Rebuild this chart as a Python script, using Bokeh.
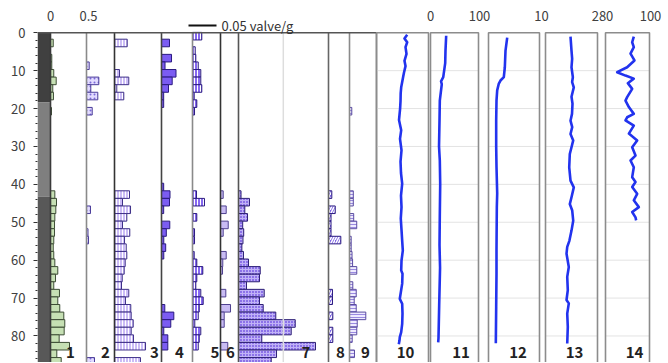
from bokeh.plotting import figure
from bokeh.models import Range1d, FixedTicker
from bokeh.embed import file_html
from bokeh.resources import INLINE
from bokeh.core.properties import value

FONT = "Noto Sans CJK JP"

# ---------------- data ----------------
# lithology (depth, cm)
litho_top = [0, 18.4, 43.2]
litho_bottom = [18.4, 43.2, 87.5]
litho_color = ["#404040", "#7f7f7f", "#585858"]

# panel 1 (scale 0 - 0.5)
p1_depth = [2.7, 6.7, 8.7, 10.7, 12.7, 14.7, 16.7, 20.7, 42.7, 44.7, 46.7, 48.7, 50.7, 52.7, 54.7, 56.7,
            58.7, 60.7, 62.7, 64.7, 66.7, 68.7, 70.7, 72.7, 74.7, 76.7, 78.7, 80.7, 82.7, 84.7, 86.7]
p1_value = [0.036, 0.017, 0.017, 0.043, 0.075, 0.030, 0.039, 0.013, 0.057, 0.079, 0.070, 0.057, 0.053, 0.053,
            0.043, 0.036, 0.043, 0.057, 0.096, 0.066, 0.043, 0.118, 0.096, 0.122, 0.175, 0.188, 0.180, 0.114,
            0.250, 0.083, 0.141]

# panels 2-9 (valve/g)
p2_depth = [8.7, 12.7, 14.7, 16.7, 20.7, 46.7, 52.7, 54.7, 86.7]
p2_value = [0.0048, 0.0220, 0.0077, 0.0202, 0.0102, 0.0071, 0.0027, 0.0036, 0.0143]

p3_depth = [2.7, 10.7, 12.7, 14.7, 16.7, 42.7, 44.7, 46.7, 48.7, 50.7, 52.7, 54.7, 56.7, 58.7, 60.7, 62.7,
            64.7, 66.7, 68.7, 70.7, 72.7, 74.7, 76.7, 78.7, 80.7, 82.7, 86.7]
p3_value = [0.0227, 0.0089, 0.0255, 0.0041, 0.0166, 0.0268, 0.0143, 0.0286, 0.0220, 0.0143, 0.0273, 0.0179,
            0.0209, 0.0220, 0.0191, 0.0173, 0.0138, 0.0125, 0.0255, 0.0196, 0.0291, 0.0298, 0.0334, 0.0298,
            0.0339, 0.0554, 0.0464]

p4_depth = [2.7, 6.7, 8.7, 10.7, 12.7, 14.7, 16.7, 18.7, 40.7, 42.7, 44.7, 46.7, 50.7, 52.7, 54.7, 56.7,
            58.7, 72.7, 74.7, 76.7, 78.7, 80.7, 82.7]
p4_value = [0.0143, 0.0179, 0.0063, 0.0259, 0.0191, 0.0125, 0.0039, 0.0039, 0.0039, 0.0152, 0.0143, 0.0039,
            0.0148, 0.0086, 0.0041, 0.0075, 0.0041, 0.0059, 0.0220, 0.0166, 0.0041, 0.0113, 0.0113]

p5_depth = [0.9, 4.7, 6.7, 8.7, 10.7, 12.7, 14.7, 16.7, 18.7, 20.7, 42.7, 44.7, 48.7, 52.7, 54.7, 58.7,
            60.7, 62.7, 64.7, 66.7, 68.7, 70.7, 72.7, 74.7, 76.7, 78.7, 80.7, 82.7]
p5_value = [0.0166, 0.0048, 0.0059, 0.0102, 0.0148, 0.0148, 0.0166, 0.0030, 0.0077, 0.0036, 0.0071, 0.0214,
            0.0077, 0.0036, 0.0036, 0.0030, 0.0077, 0.0184, 0.0077, 0.0059, 0.0148, 0.0191, 0.0120, 0.0102,
            0.0041, 0.0148, 0.0120, 0.0102]

p6_depth = [42.7, 46.7, 50.7, 52.7, 58.7, 60.7, 62.7, 68.7, 72.7, 74.7, 76.7, 82.7]
p6_value = [0.0048, 0.0102, 0.0138, 0.0048, 0.0102, 0.0041, 0.0036, 0.0095, 0.0179, 0.0066, 0.0066, 0.0130]

p7_depth = [42.7, 44.7, 46.7, 48.7, 50.7, 52.7, 54.7, 56.7, 58.7, 60.7, 62.7, 64.7, 66.7, 68.7, 70.7, 72.7,
            74.7, 76.7, 78.7, 80.7, 82.7, 84.7, 86.7]
p7_value = [0.0045, 0.0196, 0.0113, 0.0161, 0.0075, 0.0093, 0.0080, 0.0060, 0.0089, 0.0179, 0.0388, 0.0375,
            0.0143, 0.0459, 0.0375, 0.0441, 0.0666, 0.1013, 0.0941, 0.0416, 0.1375, 0.0679, 0.0584]

p8_depth = [42.7, 46.7, 48.7, 50.7, 52.7, 54.7, 68.7, 70.7, 74.7, 78.7, 80.7]
p8_value = [0.0059, 0.0120, 0.0045, 0.0045, 0.0045, 0.0220, 0.0071, 0.0071, 0.0077, 0.0077, 0.0077]

p9_depth = [20.7, 42.7, 44.7, 48.7, 50.7, 54.7, 56.7, 58.7, 60.7, 62.7, 66.7, 68.7, 70.7, 72.7, 74.7, 76.7,
            78.7, 80.7, 84.7]
p9_value = [0.0041, 0.0068, 0.0068, 0.0075, 0.0129, 0.0030, 0.0030, 0.0045, 0.0055, 0.0130, 0.0059, 0.0120,
            0.0084, 0.0120, 0.0291, 0.0138, 0.0130, 0.0048, 0.0089]

scale_bar_value = 0.05

# line panels 10-14
p10_depth = [0.5, 1.5, 2.5, 3.8, 5.6, 7.4, 8.8, 10.5, 11.6, 13.0, 14.4, 16.0, 18.0, 20.0, 23.0, 25.7, 28.0,
             31.0, 34.0, 37.0, 39.8, 43.0, 46.0, 49.0, 52.0, 54.9, 57.5, 60.1, 62.7, 63.6, 66.2, 70.2, 71.5,
             74.1, 76.8, 79.0, 80.3, 81.2, 82.2]
p10_value = [59.0, 53.8, 59.0, 55.8, 57.7, 53.8, 55.8, 52.9, 51.3, 49.4, 47.5, 46.5, 46.2, 45.4, 43.3, 47.5,
             45.2, 48.1, 46.2, 47.1, 49.4, 47.1, 48.1, 46.7, 48.1, 49.4, 50.6, 48.1, 47.5, 50.0, 49.4, 44.8,
             49.4, 50.0, 49.4, 47.5, 44.8, 44.2, 42.9]

p11_depth = [0.8, 4.7, 8.0, 11.7, 12.8, 13.6, 17.9, 23.0, 30.0, 33.7, 40.0, 48.0, 56.0, 62.0, 72.0, 80.6, 81.7]
p11_value = [32.0, 30.6, 30.0, 26.0, 21.5, 23.0, 19.0, 18.4, 17.4, 19.0, 19.8, 19.0, 18.4, 19.5, 17.7, 16.3, 15.7]

p12_depth = [1.3, 4.7, 9.1, 11.7, 12.6, 13.4, 15.2, 17.9, 23.2, 30.0, 35.4, 42.4, 46.0, 57.4, 63.6, 72.3, 81.9]
p12_value = [3.53, 3.21, 3.08, 2.89, 2.26, 1.95, 1.64, 1.51, 1.45, 1.45, 1.51, 1.64, 1.57, 1.51, 1.51, 1.45, 1.38]

p13_depth = [1.0, 4.7, 6.9, 9.1, 11.7, 13.0, 14.4, 16.9, 18.7, 21.4, 23.2, 24.9, 26.7, 28.4, 30.2, 32.0,
             35.5, 39.0, 40.8, 43.4, 45.2, 46.9, 49.6, 52.2, 54.9, 56.5, 58.3, 61.8, 64.4, 67.9, 70.5, 71.4,
             74.1, 77.6, 82.0]
p13_value = [235.1, 236.5, 237.4, 236.5, 238.4, 237.4, 239.7, 236.5, 237.9, 237.2, 235.1, 237.5, 235.1, 238.9,
             236.5, 234.1, 233.3, 235.1, 239.7, 236.5, 234.1, 237.5, 238.9, 236.5, 233.5, 230.5, 229.5, 232.7,
             230.5, 231.3, 229.5, 232.7, 230.5, 231.3, 230.5]

p14_depth = [1.0, 2.5, 3.8, 5.5, 7.3, 9.1, 10.4, 11.3, 12.1, 13.3, 14.8, 17.0, 17.9, 19.6, 21.4, 22.3, 23.1,
             24.5, 26.6, 28.4, 30.2, 32.4, 33.7, 35.5, 38.1, 39.4, 40.7, 42.5, 44.2, 46.0, 47.3, 48.7, 49.5]
p14_value = [62.9, 59.3, 62.9, 55.6, 64.4, 48.1, 25.9, 44.4, 62.9, 49.6, 59.3, 48.1, 44.4, 51.9, 62.9, 48.1,
             44.4, 62.9, 51.9, 70.4, 59.3, 66.7, 55.6, 62.9, 59.3, 66.7, 59.3, 70.4, 62.9, 74.1, 59.3, 66.7, 68.1]

depth_ticks = [0, 10, 20, 30, 40, 50, 60, 70, 80]
panel_names = ["1", "2", "3", "4", "5", "6", "7", "8", "9", "10", "11", "12", "13", "14"]

# ---------------- layout (page pixels of the frame coordinate system) ----------------
bar_left = [50, 86, 114, 161, 192, 220, 238, 328, 349]
bar_right = [86, 114, 161, 192, 220, 238, 328, 349, 376]
border_color = ["#3a3a3a", "#8a8a8a", "#333333", "#444444", "#8a8a8a", "#333333", "#555555", "#666666", "#8a8a8a", "#8a8a8a"]
box_left = [376, 430, 488, 545, 605]
box_right = [428, 478, 539, 597, 649]
line_src = [(0, 100), (0, 100), (0, 10), (200, 280), (0, 100)]
line_tgt = [(376, 428), (430, 479), (488, 541), (545, 602), (605, 650)]
name_x = [70, 105, 154, 179, 214.5, 230, 305.5, 340, 365, 405, 460.5, 517.5, 574, 634]
name_depth = 84.4
top_label_depth = -4.4

p = figure(frame_width=625, frame_height=354, output_backend="svg", toolbar_location=None,
           x_range=Range1d(37, 662), y_range=Range1d(87.0, -6.4),
           x_axis_location=None, min_border_left=37, min_border_right=0,
           min_border_top=8, min_border_bottom=0)
p.outline_line_color = None
p.border_fill_color = "white"
p.xgrid.visible = False
p.ygrid.visible = False
p.background_fill_color = "white"

yax = p.yaxis[0]
yax.ticker = FixedTicker(ticks=depth_ticks, minor_ticks=[d for d in range(2, 87, 2) if d % 10])
yax.axis_line_color = None
yax.major_tick_out = 4
yax.major_tick_in = 0
yax.minor_tick_out = 2
yax.minor_tick_in = 0
yax.major_tick_line_color = "#333333"
yax.minor_tick_line_color = "#333333"
yax.major_label_standoff = 8
yax.major_label_text_font = FONT
yax.major_label_text_font_size = "13px"
yax.major_label_text_color = "#404040"


def sub(src, tgt):
    return p.subplot(x_source=Range1d(*src), x_target=Range1d(*tgt),
                     y_source=Range1d(0, 1), y_target=Range1d(0, 1))


# lithology column
lith = sub((0, 1), (37, 50))
lith.hbar(y=[(a + b) / 2 for a, b in zip(litho_top, litho_bottom)],
          height=[b - a for a, b in zip(litho_top, litho_bottom)],
          left=0, right=1, fill_color=litho_color, line_color=None)

# bar panels
bar_styles = [
    dict(fill_color="#c6e0b4", line_color="#3d4d35"),
    dict(fill_color="#e2dbff", line_color="#4a3c99", hatch_pattern="dot", hatch_color="#7a68d8", hatch_scale=4, hatch_weight=1),
    dict(fill_color="#cbbcf6", line_color="#3e3088", hatch_pattern="vertical_line", hatch_color="#ffffff", hatch_scale=3, hatch_weight=1),
    dict(fill_color="#7b5cf2", line_color="#2a1a80"),
    dict(fill_color="#8668f0", line_color="#2a1a80", hatch_pattern="vertical_line", hatch_color="#ffffff", hatch_scale=3, hatch_weight=1),
    dict(fill_color="#c8bbf3", line_color="#4e4090"),
    dict(fill_color="#8c72e8", line_color="#2e2075", hatch_pattern="cross", hatch_color="#c0b2f6", hatch_scale=3, hatch_weight=1),
    dict(fill_color="#8068e6", line_color="#2a1a80", hatch_pattern="right_diagonal_line", hatch_color="#ffffff", hatch_scale=5, hatch_weight=1.5),
    dict(fill_color="#eeeaff", line_color="#5a4ca0", hatch_pattern="horizontal_line", hatch_color="#9a8ae0", hatch_scale=3, hatch_weight=1),
]
bar_data = [(p1_depth, p1_value), (p2_depth, p2_value), (p3_depth, p3_value), (p4_depth, p4_value),
            (p5_depth, p5_value), (p6_depth, p6_value), (p7_depth, p7_value), (p8_depth, p8_value),
            (p9_depth, p9_value)]
bar_subs = []
for i, ((dep, val), style) in enumerate(zip(bar_data, bar_styles)):
    if i == 0:
        s = sub((0, 0.5), (50, 88))
    else:
        s = sub((0, scale_bar_value), (bar_left[i], bar_left[i] + 28))
    bar_subs.append(s)
    s.hbar(y=dep, left=0, right=val, height=2, line_width=1, **style)

# light vertical guide line in panel 7
bar_subs[6].segment(x0=[0.08], x1=[0.08], y0=[0], y1=[87.5], line_color="#dddddd", line_width=1.5)

# panel borders for 1-9
borders = bar_left + [bar_right[-1]]
p.segment(x0=borders, x1=borders, y0=0, y1=87.5, line_color=border_color, line_width=1.6)
p.segment(x0=[37], x1=[bar_right[-1]], y0=[0], y1=[0], line_color="#555555", line_width=1.5)

# line panels
for l, r in zip(box_left, box_right):
    gl = [t for t in depth_ticks if t > 0]
    p.segment(x0=[l] * len(gl), x1=[r] * len(gl), y0=gl, y1=gl, line_color="#e3e3e3", line_width=1)
p.quad(left=box_left, right=box_right, top=0, bottom=87.5, fill_color=None,
       line_color="#8c8c8c", line_width=1.6)

line_data = [(p10_depth, p10_value), (p11_depth, p11_value), (p12_depth, p12_value),
             (p13_depth, p13_value), (p14_depth, p14_value)]
line_subs = []
for (dep, val), src, tgt in zip(line_data, line_src, line_tgt):
    s = sub(src, tgt)
    line_subs.append(s)
    s.line(x=val, y=dep, line_color="#2233ee", line_width=2.6, line_join="round")

# top scale labels
txt = dict(text_font=value(FONT), text_font_size="13px", text_color="#404040",
           text_align="center", text_baseline="middle")
bar_subs[0].text(x=[0, 0.5], y=[top_label_depth] * 2, text=["0", "0.5"], **txt)
line_subs[1].text(x=[0, 100], y=[top_label_depth] * 2, text=["0", "100"], **txt)
line_subs[2].text(x=[10], y=[top_label_depth], text=["10"], **txt)
line_subs[3].text(x=[280], y=[top_label_depth], text=["280"], **txt)
line_subs[4].text(x=[100], y=[top_label_depth], text=["100"], **txt)

# scale bar 0.05 valve/g
sb = sub((0, scale_bar_value), (188, 216))
sb.segment(x0=[0], x1=[scale_bar_value], y0=[-1.9], y1=[-1.9], line_color="#111111", line_width=2)
sb.text(x=[scale_bar_value], y=[-1.9], text=["0.05 valve/g"], x_offset=5,
        text_font=value(FONT), text_font_size="13px", text_color="#333333",
        text_align="left", text_baseline="middle")

# panel numbers
p.text(x=name_x, y=[name_depth] * len(name_x), text=panel_names, text_font=value(FONT),
       text_font_size="15px", text_font_style="bold", text_color="#222222",
       text_align="center", text_baseline="middle")

open("out.html", "w").write(file_html(p, INLINE))
